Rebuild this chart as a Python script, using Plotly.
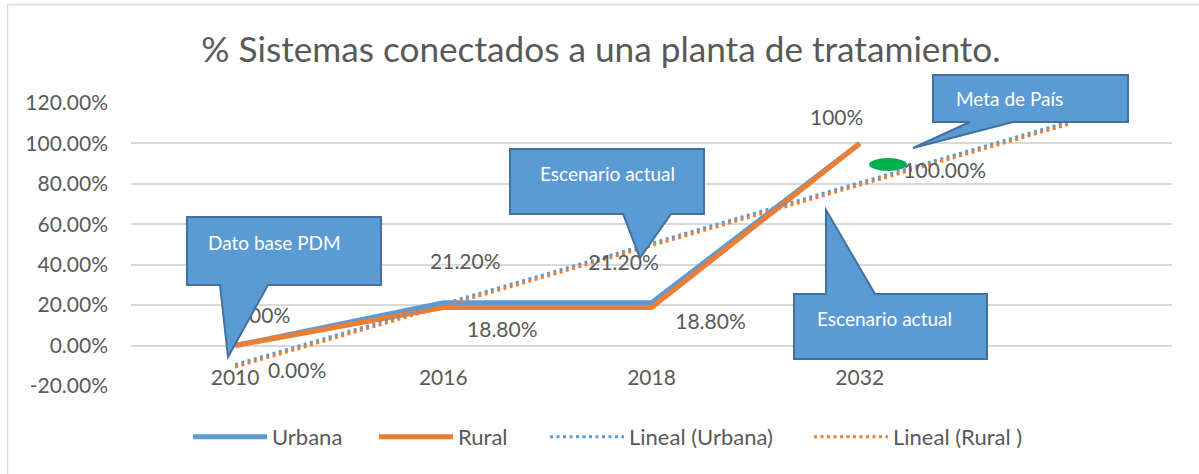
import numpy as np
import plotly.graph_objects as go

# ---------------- data ----------------
years = ["2010", "2016", "2018", "2032"]
urbana = [0.0, 0.212, 0.212, 1.0]
rural = [0.0, 0.188, 0.188, 1.0]
urbana_labels = ["0.00%", "21.20%", "21.20%", "100%"]
rural_labels = ["0.00%", "18.80%", "18.80%", "100.00%"]
y_ticks = [-0.2, 0.0, 0.2, 0.4, 0.6, 0.8, 1.0, 1.2]
y_tick_labels = ["-20.00%", "0.00%", "20.00%", "40.00%", "60.00%", "80.00%", "100.00%", "120.00%"]

# ---------------- layout geometry (screen px; body margin removed by post_script) ----------------
W, H = 1199, 474
OFF = 0
PL, PR, PT, PB = 131, 1172, 103, 386  # plot area in screen pixels
ML, MT = PL - OFF, PT - OFF
PW, PH = PR - PL, PB - PT
MR, MB = W - ML - PW, H - MT - PH
Y0, Y1 = -0.2, 1.2
NCAT = 5  # 4 categories + 1 forecast period of trendline
CATW = PW / NCAT


def px(x):
    return (x - PL) / PW


def py(y):
    return (PB - y) / PH


def ddx(p):  # pixel offset -> category units
    return p / CATW


def ddy(p):  # pixel offset (screen, down positive) -> data units
    return -p * (Y1 - Y0) / PH


BLUE = "#5B9BD5"
ORANGE = "#ED7D31"
GREY = "#595959"
FONT = "Lato"

xi = np.arange(len(years))

# linear trendlines (Excel style, x = 1..n, forecast forward 1 period)
xe = np.arange(1, len(years) + 1)
xt = np.arange(1, len(years) + 2)
bu = np.polyfit(xe, urbana, 1)
br = np.polyfit(xe, rural, 1)
trend_u = np.polyval(bu, xt)
trend_r = np.polyval(br, xt)

fig = go.Figure()
fig.add_trace(go.Scatter(x=xi, y=urbana, mode="lines", name="Urbana", legend="legend",
                         line=dict(color=BLUE, width=5)))
fig.add_trace(go.Scatter(x=xi, y=rural, mode="lines", name="Rural", legend="legend2",
                         line=dict(color=ORANGE, width=5)))
fig.add_trace(go.Scatter(x=xt - 1, y=trend_u, mode="lines", name="Lineal (Urbana)", legend="legend3",
                         line=dict(color=BLUE, width=3, dash="3px,3.5px")))
fig.add_trace(go.Scatter(x=xt - 1, y=trend_r, mode="lines", name="Lineal (Rural )", legend="legend4",
                         line=dict(color=ORANGE, width=3, dash="3px,3.5px")))

# data labels (text traces so callouts can overlap them)
u_off = [(26, -28), (22, -39), (-28, -38), (-23, -24)]
r_off = [(62, 27), (59, 24), (59, 16), (85, 29)]
fig.add_trace(go.Scatter(
    x=[i + ddx(o[0]) for i, o in zip(xi, u_off)],
    y=[v + ddy(o[1]) for v, o in zip(urbana, u_off)],
    mode="text", text=urbana_labels, textposition="middle center",
    textfont=dict(family=FONT, size=21, color=GREY),
    showlegend=False, hoverinfo="skip", cliponaxis=False))
fig.add_trace(go.Scatter(
    x=[i + ddx(o[0]) for i, o in zip(xi, r_off)],
    y=[v + ddy(o[1]) for v, o in zip(rural, r_off)],
    mode="text", text=rural_labels, textposition="middle center",
    textfont=dict(family=FONT, size=21, color=GREY),
    showlegend=False, hoverinfo="skip", cliponaxis=False))

# ---------------- callouts ----------------
def path(pts):
    s = "M" + " L".join(f"{px(a):.5f},{py(b):.5f}" for a, b in pts) + " Z"
    return s


callouts = [
    ("Dato base PDM", [(187, 217), (381, 217), (381, 285), (268, 285), (228, 357), (220, 285), (187, 285)], (274, 242)),
    ("Escenario actual", [(510, 149), (704, 149), (704, 214), (671, 214), (640, 258), (623, 214), (510, 214)], (607, 173)),
    ("Escenario actual", [(794, 294), (826, 294), (826, 210), (875, 294), (987, 294), (987, 359), (794, 359)], (884, 318)),
    ("Meta de País", [(933, 75), (1128, 75), (1128, 122), (1013, 122), (913, 148), (970, 122), (933, 122)], (1009, 99)),
]
shapes = []
annotations = []
for text, pts, (tx, ty) in callouts:
    shapes.append(dict(type="path", xref="paper", yref="paper", path=path(pts),
                       fillcolor=BLUE, line=dict(color="#41719C", width=2), layer="above"))
    annotations.append(dict(xref="paper", yref="paper", x=px(tx), y=py(ty), text=text,
                            showarrow=False, xanchor="center", yanchor="middle",
                            font=dict(family=FONT, size=19, color="white")))

# green target marker
shapes.append(dict(type="circle", xref="paper", yref="paper",
                   x0=px(869), x1=px(907), y0=py(171), y1=py(158),
                   fillcolor="#00B050", line=dict(width=0), layer="above"))
# chart outer border
shapes.append(dict(type="rect", xref="paper", yref="paper",
                   x0=px(7.5), x1=px(1230), y0=py(500), y1=py(4.5),
                   fillcolor="rgba(0,0,0,0)", line=dict(color="#D9D9D9", width=1.5),
                   layer="below"))

legend_style = dict(orientation="h", xanchor="left", yanchor="middle", y=py(437),
                    font=dict(family=FONT, size=22, color=GREY), itemwidth=74,
                    bgcolor="rgba(0,0,0,0)")

fig.update_layout(
    width=W, height=H,
    margin=dict(l=ML, r=MR, t=MT, b=MB, pad=0, autoexpand=False),
    paper_bgcolor="white", plot_bgcolor="white",
    title=dict(text="% Sistemas conectados a una planta de tratamiento.",
               x=(601 - OFF) / W, xref="container", xanchor="center",
               y=1 - (50 - OFF) / H, yref="container", yanchor="middle",
               font=dict(family=FONT, size=35.2, color=GREY)),
    xaxis=dict(range=[-0.5, NCAT - 0.5], tickmode="array", tickvals=list(xi), ticktext=years,
               showgrid=False, zeroline=False, showline=False, ticks="",
               tickfont=dict(family=FONT, size=21, color=GREY), ticklabelstandoff=-23),
    yaxis=dict(range=[Y0, Y1], tickmode="array", tickvals=y_ticks, ticktext=y_tick_labels,
               showgrid=True, gridcolor="#D9D9D9", gridwidth=1.5, zeroline=False,
               showline=False, ticks="", ticklabelstandoff=22,
               tickfont=dict(family=FONT, size=21, color=GREY)),
    legend=dict(legend_style, x=px(188)),
    legend2=dict(legend_style, x=px(374)),
    legend3=dict(legend_style, x=px(545)),
    legend4=dict(legend_style, x=px(809)),
    shapes=shapes, annotations=annotations,
    showlegend=True,
)

fig.write_html("out.html", config={"displayModeBar": False},
               post_script="document.body.style.margin='0';document.body.style.overflow='hidden';")
